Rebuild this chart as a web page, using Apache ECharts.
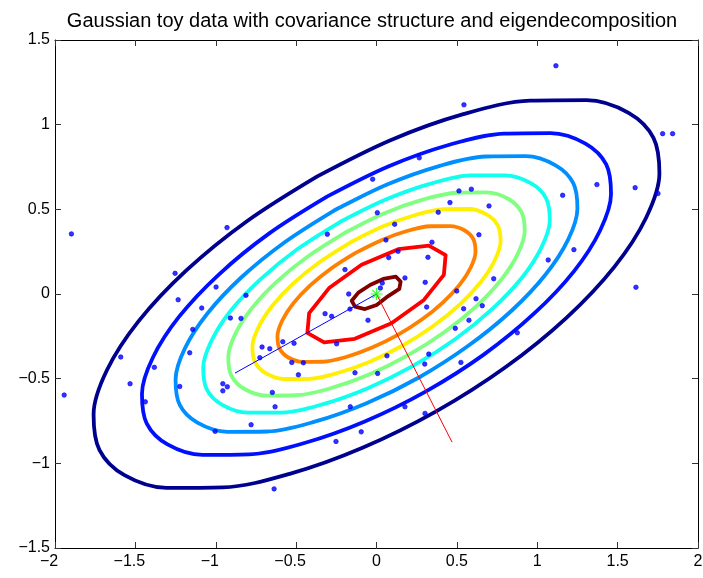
<!DOCTYPE html>
<html><head><meta charset="utf-8">
<script src="https://cdn.jsdelivr.net/npm/echarts@6.0.0/dist/echarts.min.js"></script>
<style>html,body{margin:0;padding:0;background:#fff}#c{width:703px;height:578px}</style>
</head><body><div id="c"></div>
<script>
const titleText = 'Gaussian toy data with covariance structure and eigendecomposition';
const xTickValues = [-2, -1.5, -1, -0.5, 0, 0.5, 1, 1.5, 2];
const xTickLabels = ['\u22122', '\u22121.5', '\u22121', '\u22120.5', '0', '0.5', '1', '1.5', '2'];
const yTickValues = [-1.5, -1, -0.5, 0, 0.5, 1, 1.5];
const yTickLabels = ['\u22121.5', '\u22121', '\u22120.5', '0', '0.5', '1', '1.5'];

// sample points
const pointsX = [0.544,0.266,-0.024,0.590,0.513,0.457,0.005,0.384,0.700,1.116,1.780,1.842,1.371,1.609,1.751,1.158,
 -1.898,-0.930,-1.253,-0.998,-1.234,-0.812,-1.087,-0.909,-0.843,-1.143,-1.162,-0.712,-0.664,-0.726,-1.591,-1.382,-1.533,-0.956,
 -1.943,-1.224,-0.928,-0.956,-1.438,-0.648,-0.631,-0.780,-1.004,-0.637,-0.163,0.177,0.302,-0.095,-0.252,
 1.228,1.068,0.729,1.614,0.876,0.113,-0.306,0.637,0.059,0.345,0.134,0.076,0.320,-0.196,0.177,0.036,0.303,0.499,-0.173,0.024,
 0.619,0.658,0.312,0.542,-0.165,-0.320,-0.279,-0.053,0.575,0.490,-0.583,-0.513,-0.248,0.065,0.325,0.300,0.525,-0.527,-0.455,-0.134,0.007,-0.486];
const pointsY = [1.117,0.804,0.678,0.619,0.609,0.540,0.480,0.483,0.520,1.348,0.947,0.947,0.646,0.628,0.593,0.583,
 0.355,0.392,0.122,0.041,-0.034,-0.008,-0.083,-0.142,-0.144,-0.209,-0.347,-0.313,-0.323,-0.376,-0.372,-0.433,-0.530,-0.530,
 -0.597,-0.546,-0.548,-0.572,-0.637,-0.581,-0.666,-0.772,-0.811,-1.151,-0.666,-0.666,-0.705,-0.814,-0.871,
 0.262,0.201,0.090,0.040,-0.229,0.412,0.353,0.350,0.319,0.306,0.252,0.215,0.217,0.144,0.095,0.065,0.069,0.018,0.000,0.035,
 -0.028,-0.069,-0.077,-0.087,-0.089,-0.116,-0.132,-0.155,-0.155,-0.203,-0.282,-0.291,-0.294,-0.365,-0.355,-0.414,-0.404,-0.404,-0.406,-0.465,-0.469,-0.477];

const meanPoint = [0, 0];
const eigVec1End = [-0.880, -0.467];
const eigVec2End = [0.470, -0.875];

// contour levels and their traced outlines
const contourLevels = [0.05, 0.10, 0.15, 0.20, 0.25, 0.30, 0.35, 0.40, 0.45];
const contourColors = ['#00008f','#0010ff','#008fff','#10ffef','#80ff80','#ffef00','#ff8000','#ff0000','#800000'];
const contour1 = [[-0.371,0.693],[-0.804,0.431],[-1.183,0.139],[-1.481,-0.162],[-1.678,-0.452],[-1.760,-0.711],[-1.723,-0.922],[-1.568,-1.070],[-1.306,-1.145],[-0.956,-1.142],[-0.540,-1.062],[-0.087,-0.908],[0.371,-0.693],[0.804,-0.431],[1.183,-0.139],[1.481,0.162],[1.678,0.452],[1.760,0.711],[1.723,0.922],[1.568,1.070],[1.306,1.145],[0.956,1.142],[0.540,1.062],[0.087,0.908]];
const contour2 = [[-0.308,0.575],[-0.667,0.358],[-0.981,0.115],[-1.228,-0.134],[-1.391,-0.375],[-1.459,-0.590],[-1.429,-0.765],[-1.300,-0.888],[-1.083,-0.950],[-0.793,-0.947],[-0.448,-0.880],[-0.073,-0.753],[0.308,-0.575],[0.667,-0.358],[0.981,-0.115],[1.228,0.134],[1.391,0.375],[1.459,0.590],[1.429,0.765],[1.300,0.888],[1.083,0.950],[0.793,0.947],[0.448,0.880],[0.073,0.753]];
const contour3 = [[-0.264,0.493],[-0.571,0.306],[-0.840,0.099],[-1.052,-0.115],[-1.192,-0.321],[-1.250,-0.505],[-1.224,-0.655],[-1.114,-0.760],[-0.928,-0.814],[-0.679,-0.812],[-0.384,-0.754],[-0.062,-0.645],[0.264,-0.493],[0.571,-0.306],[0.840,-0.099],[1.052,0.115],[1.192,0.321],[1.250,0.505],[1.224,0.655],[1.114,0.760],[0.928,0.814],[0.679,0.812],[0.384,0.754],[0.062,0.645]];
const contour4 = [[-0.227,0.425],[-0.493,0.264],[-0.724,0.085],[-0.907,-0.099],[-1.027,-0.277],[-1.078,-0.436],[-1.055,-0.565],[-0.960,-0.655],[-0.800,-0.701],[-0.585,-0.700],[-0.331,-0.650],[-0.054,-0.556],[0.227,-0.425],[0.493,-0.264],[0.724,-0.085],[0.907,0.099],[1.027,0.277],[1.078,0.436],[1.055,0.565],[0.960,0.655],[0.800,0.701],[0.585,0.700],[0.331,0.650],[0.054,0.556]];
const contour5 = [[-0.194,0.363],[-0.421,0.226],[-0.620,0.073],[-0.776,-0.085],[-0.879,-0.237],[-0.922,-0.373],[-0.902,-0.483],[-0.821,-0.561],[-0.684,-0.600],[-0.501,-0.598],[-0.283,-0.556],[-0.046,-0.476],[0.194,-0.363],[0.421,-0.226],[0.620,-0.073],[0.776,0.085],[0.879,0.237],[0.922,0.373],[0.902,0.483],[0.821,0.561],[0.684,0.600],[0.501,0.598],[0.283,0.556],[0.046,0.476]];
const contour6 = [[-0.163,0.304],[-0.353,0.189],[-0.519,0.061],[-0.649,-0.071],[-0.735,-0.198],[-0.772,-0.312],[-0.755,-0.404],[-0.687,-0.469],[-0.573,-0.502],[-0.419,-0.501],[-0.237,-0.465],[-0.038,-0.398],[0.163,-0.304],[0.353,-0.189],[0.519,-0.061],[0.649,0.071],[0.735,0.198],[0.772,0.312],[0.755,0.404],[0.687,0.469],[0.573,0.502],[0.419,0.501],[0.237,0.465],[0.038,0.398]];
const contour7 = [[-0.130,0.243],[-0.282,0.151],[-0.414,0.049],[-0.519,-0.057],[-0.587,-0.158],[-0.616,-0.249],[-0.603,-0.323],[-0.549,-0.375],[-0.458,-0.401],[-0.335,-0.400],[-0.189,-0.372],[-0.031,-0.318],[0.130,-0.243],[0.282,-0.151],[0.414,-0.049],[0.519,0.057],[0.587,0.158],[0.616,0.249],[0.603,0.323],[0.549,0.375],[0.458,0.401],[0.335,0.400],[0.189,0.372],[0.031,0.318]];
const contour8 = [[-0.093,0.173],[-0.295,0.035],[-0.419,-0.113],[-0.430,-0.230],[-0.326,-0.286],[-0.135,-0.265],[0.093,-0.173],[0.295,-0.035],[0.419,0.113],[0.430,0.230],[0.326,0.286],[0.135,0.265]];
const contour9 = [[-0.154,-0.040],[-0.113,0.008],[-0.040,0.053],[0.042,0.089],[0.121,0.102],[0.150,0.073],[0.142,0.030],[0.073,-0.012],[0.001,-0.065],[-0.072,-0.089],[-0.134,-0.075]];
const contours = [contour1, contour2, contour3, contour4, contour5, contour6, contour7, contour8, contour9];

const FONT = 'Liberation Sans, Arial, Helvetica, sans-serif';
const chart = echarts.init(document.getElementById('c'), null, {renderer: 'canvas'});

function tickIndex(vals, v) {
  let best = 0;
  for (let i = 0; i < vals.length; i++) if (Math.abs(vals[i] - v) < Math.abs(vals[best] - v)) best = i;
  return best;
}

const series = [];
contours.forEach((pts, i) => {
  series.push({
    type: 'line', name: 'level ' + contourLevels[i],
    data: pts.concat([pts[0]]),
    showSymbol: false, symbol: 'none',
    smooth: i < 7 ? 0.33 : false,
    lineStyle: {color: contourColors[i], width: 3.8, cap: 'round', join: 'round'},
    z: 2, silent: true
  });
});
series.push({
  type: 'scatter', data: pointsX.map((x, i) => [x, pointsY[i]]),
  symbol: 'circle', symbolSize: 4.5,
  itemStyle: {color: '#0000ff', borderColor: '#0000ff', borderWidth: 0.8}, z: 4, silent: true
});
series.push({
  type: 'line', data: [meanPoint, eigVec1End], showSymbol: false, symbol: 'none',
  lineStyle: {color: '#0000ff', width: 1}, z: 5, silent: true
});
series.push({
  type: 'line', data: [meanPoint, eigVec2End], showSymbol: false, symbol: 'none',
  lineStyle: {color: '#ff0000', width: 1}, z: 5, silent: true
});
series.push({
  type: 'scatter', data: [meanPoint],
  symbol: 'path://M5,0L5,10M0,5L10,5M1.5,1.5L8.5,8.5M1.5,8.5L8.5,1.5',
  symbolSize: 12,
  itemStyle: {color: 'none', borderColor: '#00ff00', borderWidth: 1.2}, z: 6, silent: true
});

const axisCommon = {
  type: 'value',
  axisLine: {show: true, onZero: false, lineStyle: {color: '#000', width: 1}},
  axisTick: {show: true, inside: true, length: 6, lineStyle: {color: '#333', width: 1}},
  splitLine: {show: false}
};

chart.setOption({
  animation: false,
  backgroundColor: '#fff',
  title: {
    text: titleText, left: 367, top: 6, textAlign: 'center',
    textStyle: {fontFamily: FONT, fontSize: 20, fontWeight: 'normal', color: '#000'}
  },
  grid: {left: 55, right: 5, top: 40, bottom: 30, containLabel: false, outerBoundsMode: 'none'},
  xAxis: [
    Object.assign({}, axisCommon, {
      position: 'bottom', min: -2, max: 2, interval: 0.5,
      axisLabel: {
        show: true, margin: 6, showMinLabel: true, showMaxLabel: true,
        formatter: v => {
          const lab = xTickLabels[tickIndex(xTickValues, v)];
          return v < 0 ? '{n|' + lab + '}' : '{p|' + lab + '}';
        },
        rich: {
          n: {fontFamily: FONT, fontSize: 16, color: '#000', padding: [0, 12, 0, 0]},
          p: {fontFamily: FONT, fontSize: 16, color: '#000'}
        }
      }
    }),
    Object.assign({}, axisCommon, {
      position: 'top', min: -2, max: 2, interval: 0.5, axisLabel: {show: false}
    })
  ],
  yAxis: [
    Object.assign({}, axisCommon, {
      position: 'left', min: -1.5, max: 1.5, interval: 0.5,
      axisLabel: {
        show: true, margin: 5, showMinLabel: true, showMaxLabel: true,
        fontFamily: FONT, fontSize: 16, color: '#000',
        formatter: v => yTickLabels[tickIndex(yTickValues, v)]
      }
    }),
    Object.assign({}, axisCommon, {
      position: 'right', min: -1.5, max: 1.5, interval: 0.5, axisLabel: {show: false}
    })
  ],
  series: series
});
</script>
</body></html>
